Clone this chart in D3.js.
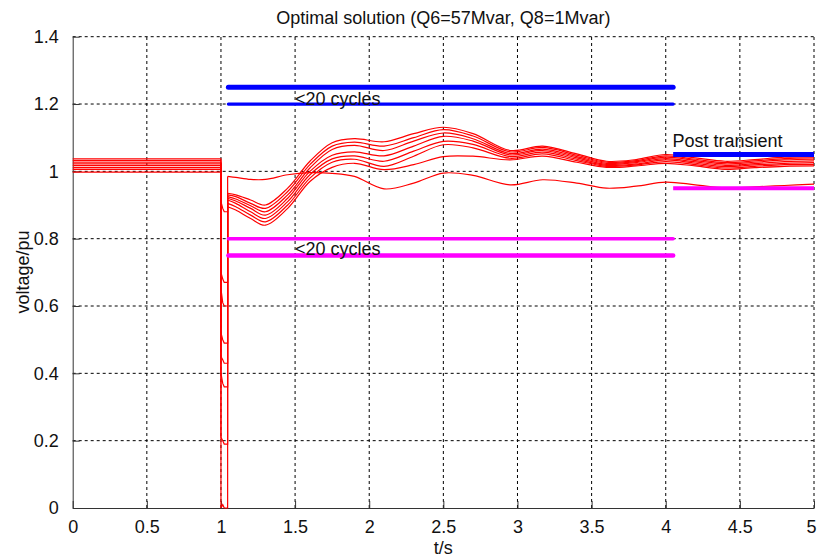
<!DOCTYPE html>
<html>
<head>
<meta charset="utf-8">
<script src="https://cdn.jsdelivr.net/npm/d3@7"></script>
<style>
  body { margin: 0; background: #fff; }
  text { font-family: "Liberation Sans", Arial, sans-serif; }
</style>
</head>
<body>
<div id="chart"></div>
<script>
// Axis ticks
const xTicks = [0, 0.5, 1, 1.5, 2, 2.5, 3, 3.5, 4, 4.5, 5];
const yTicks = [0, 0.2, 0.4, 0.6, 0.8, 1, 1.2, 1.4];

// Fault timing (s)
const tFault = 1.0;
const tClear = 1.045;

// Post-fault sample times (s)
const tPost = [1.045, 1.1, 1.2, 1.3, 1.45, 1.6, 1.75, 1.9, 2.1, 2.3, 2.5, 2.7, 2.95, 3.17, 3.4, 3.6, 3.8, 4.0, 4.2, 4.4, 4.6, 4.8, 5.0];

// Bus voltages (pu)
const busNames   = ["A", "B", "C", "D", "E", "F", "G", "H"];
const preFault   = [1.037, 1.032, 1.027, 1.022, 1.017, 1.011, 1.006, 0.998];
const faultStart = [0.70, 0.65, 0.52, 0.45, 0.40, 0.91, 0.21, 0];
const faultEnd   = [0.67, 0.60, 0.49, 0.43, 0.36, 0.88, 0.19, 0];

const busA = [0.935, 0.93, 0.915, 0.90, 0.95, 1.03, 1.085, 1.097, 1.088, 1.112, 1.131, 1.112, 1.062, 1.075, 1.052, 1.03, 1.035, 1.05, 1.04, 1.03, 1.035, 1.042, 1.044];
const busB = [0.93, 0.925, 0.905, 0.89, 0.94, 1.02, 1.075, 1.087, 1.075, 1.10, 1.124, 1.105, 1.058, 1.071, 1.048, 1.027, 1.032, 1.046, 1.036, 1.026, 1.031, 1.038, 1.04];
const busC = [0.925, 0.918, 0.898, 0.88, 0.93, 1.01, 1.065, 1.077, 1.062, 1.09, 1.114, 1.097, 1.053, 1.066, 1.044, 1.024, 1.029, 1.042, 1.032, 1.022, 1.027, 1.034, 1.036];
const busD = [0.92, 0.912, 0.89, 0.87, 0.92, 1.0, 1.048, 1.058, 1.046, 1.075, 1.104, 1.09, 1.049, 1.062, 1.04, 1.021, 1.026, 1.038, 1.028, 1.018, 1.023, 1.029, 1.031];
const busE = [0.915, 0.905, 0.88, 0.86, 0.91, 0.99, 1.037, 1.046, 1.03, 1.06, 1.089, 1.08, 1.044, 1.057, 1.036, 1.018, 1.022, 1.034, 1.024, 1.014, 1.019, 1.024, 1.026];
const busF = [0.905, 0.895, 0.87, 0.85, 0.90, 0.98, 1.027, 1.036, 1.015, 1.045, 1.079, 1.07, 1.039, 1.052, 1.032, 1.015, 1.019, 1.029, 1.02, 1.01, 1.015, 1.02, 1.021];
const busG = [0.895, 0.885, 0.86, 0.84, 0.89, 0.97, 1.012, 1.024, 1.005, 1.02, 1.044, 1.045, 1.034, 1.045, 1.027, 1.012, 1.016, 1.024, 1.016, 1.006, 1.011, 1.015, 1.016];
const busH = [0.985, 0.982, 0.976, 0.976, 0.99, 0.996, 0.994, 0.985, 0.948, 0.965, 0.995, 0.988, 0.96, 0.975, 0.965, 0.95, 0.956, 0.968, 0.96, 0.951, 0.954, 0.958, 0.962];
const postFault = [busA, busB, busC, busD, busE, busF, busG, busH];

// Voltage limits (pu)
const transientLimits = [1.25, 1.2, 0.8, 0.75];
const transientSpan = [1.05, 4.05];
const postLimits = [1.05, 0.95];
const postSpan = [4.05, 5.0];

// Chart dimensions
const width = 817, height = 558;
const margin = {top: 36.7, right: 3, bottom: 50, left: 72.7};

const svg = d3.select("#chart").append("svg")
    .attr("width", width)
    .attr("height", height);

const x = d3.scaleLinear().domain([0, 5]).range([margin.left, width - margin.right]);
const y = d3.scaleLinear().domain([0, 1.4]).range([height - margin.bottom, margin.top]);

// Dashed grid
svg.append("g").selectAll("line")
    .data(xTicks.slice(1))
    .enter().append("line")
    .attr("x1", d => x(d)).attr("x2", d => x(d))
    .attr("y1", y(0)).attr("y2", y(1.4))
    .attr("stroke", "#000").attr("stroke-dasharray", "3,3");
svg.append("g").selectAll("line")
    .data(yTicks.slice(1))
    .enter().append("line")
    .attr("y1", d => y(d)).attr("y2", d => y(d))
    .attr("x1", x(0)).attr("x2", x(5))
    .attr("stroke", "#000").attr("stroke-dasharray", "3,3");

// Axes with inward ticks
const xAxis = d3.axisBottom(x).tickValues(xTicks).tickFormat(d => d).tickSizeInner(-7).tickSizeOuter(0).tickPadding(12);
const yAxis = d3.axisLeft(y).tickValues(yTicks).tickFormat(d => d).tickSizeInner(-7).tickSizeOuter(0).tickPadding(14);

svg.append("g")
    .attr("transform", "translate(0," + y(0) + ")")
    .call(xAxis)
    .call(g => g.selectAll("line, path").attr("stroke", "#333"))
    .call(g => g.selectAll("text").attr("font-size", 18).attr("fill", "#111").attr("font-family", null))
    .call(g => g.select(".tick:last-of-type text").attr("dx", "-3"));
svg.append("g")
    .attr("transform", "translate(" + x(0) + ",0)")
    .call(yAxis)
    .call(g => g.selectAll("line, path").attr("stroke", "#333"))
    .call(g => g.selectAll("text").attr("font-size", 18).attr("fill", "#111").attr("font-family", null));

// Bus voltage curves
const straight = d3.line().x(d => x(d[0])).y(d => y(d[1]));
const smooth = d3.line().x(d => x(d[0])).y(d => y(d[1])).curve(d3.curveCatmullRom.alpha(0.5));

busNames.forEach((name, i) => {
    const vals = postFault[i];
    const faultPts = [
        [0, preFault[i]], [tFault, preFault[i]],
        [tFault, faultStart[i]], [tFault + 0.012, faultEnd[i] + 0.01], [tFault + 0.022, faultEnd[i]],
        [tClear, faultEnd[i]], [tClear, vals[0]]
    ];
    svg.append("path")
        .attr("d", straight(faultPts))
        .attr("fill", "none").attr("stroke", "#ff0000").attr("stroke-width", 1.2);
    svg.append("path")
        .attr("d", smooth(tPost.map((t, j) => [t, vals[j]])))
        .attr("fill", "none").attr("stroke", "#ff0000").attr("stroke-width", 1.2);
});

// Limit lines
const limitColor = v => v > 1 ? "#0000ff" : "#ff00ff";
const transientWidth = [5, 3.2, 3.5, 4.5];
svg.append("g").selectAll("line")
    .data(transientLimits)
    .enter().append("line")
    .attr("x1", x(transientSpan[0])).attr("x2", x(transientSpan[1]))
    .attr("y1", d => y(d)).attr("y2", d => y(d))
    .attr("stroke", d => limitColor(d))
    .attr("stroke-width", (d, i) => transientWidth[i])
    .attr("stroke-linecap", "round");
svg.append("g").selectAll("line")
    .data(postLimits)
    .enter().append("line")
    .attr("x1", x(postSpan[0])).attr("x2", x(postSpan[1]))
    .attr("y1", d => y(d)).attr("y2", d => y(d))
    .attr("stroke", d => limitColor(d))
    .attr("stroke-width", (d, i) => i === 0 ? 5 : 4);

// Labels
svg.append("text").attr("x", x(1.5)).attr("y", y(1.2) + 1)
    .attr("font-size", 18).attr("fill", "#111").text("<20 cycles");
svg.append("text").attr("x", x(1.5)).attr("y", y(0.752))
    .attr("font-size", 18).attr("fill", "#111").text("<20 cycles");
svg.append("text").attr("x", x(4.045)).attr("y", y(1.072))
    .attr("font-size", 18).attr("fill", "#111").text("Post transient");

// Title and axis titles
svg.append("text")
    .attr("x", (x(0) + x(5)) / 2).attr("y", 24)
    .attr("text-anchor", "middle").attr("font-size", 18).attr("fill", "#111")
    .text("Optimal solution (Q6=57Mvar, Q8=1Mvar)");
svg.append("text")
    .attr("x", (x(0) + x(5)) / 2).attr("y", 554)
    .attr("text-anchor", "middle").attr("font-size", 18).attr("fill", "#111")
    .text("t/s");
svg.append("text")
    .attr("transform", "translate(29," + 272 + ") rotate(-90)")
    .attr("text-anchor", "middle").attr("font-size", 18).attr("fill", "#111")
    .text("voltage/pu");
</script>
</body>
</html>
